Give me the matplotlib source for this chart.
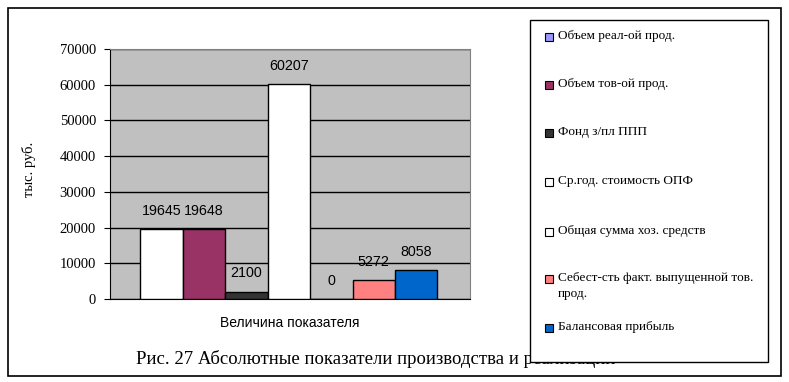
import matplotlib.pyplot as plt
from matplotlib.patches import Rectangle

# data
labels = ['Объем реал-ой прод.', 'Объем тов-ой прод.', 'Фонд з/пл ППП',
          'Ср.год. стоимость ОПФ', 'Общая сумма хоз. средств',
          'Себест-сть факт. выпущенной тов.\nпрод.', 'Балансовая прибыль']
values = [19645, 19648, 2100, 60207, 0, 5272, 8058]
bar_colors = ['#ffffff', '#993366', '#333333', '#ffffff', '#ffffff', '#ff8080', '#0066cc']
legend_colors = ['#9999ff', '#993366', '#333333', '#ffffff', '#ffffff', '#ff8080', '#0066cc']
category = 'Величина показателя'

serif = 'Liberation Serif'
sans = 'Liberation Sans'

fig = plt.figure(figsize=(7.89, 3.82), dpi=100)
W, H = 789, 382

# outer frame
fig.patches.append(Rectangle((8 / W, 1 - 376 / H), 773 / W, 368 / H, transform=fig.transFigure,
                             fill=False, edgecolor='black', linewidth=1.2, zorder=0))

ax = fig.add_axes([110 / W, 1 - 299 / H, 360 / W, 250 / H])
ax.set_facecolor('#c0c0c0')

n = len(values)
bw = 297 / 360 / n
x0 = -0.5 + (1 - bw * n) / 2 - 0.003
for i, (v, c) in enumerate(zip(values, bar_colors)):
    xc = x0 + bw * (i + 0.5)
    ax.bar(xc, v, width=bw, color=c, edgecolor='black', linewidth=1, zorder=3)
    ax.annotate(str(v), (xc, v), xytext=(0, 13), textcoords='offset points',
                ha='center', va='center', fontsize=10.3, family=sans, zorder=4)

ax.set_xlim(-0.5, 0.5)
ax.set_ylim(0, 70000)
ax.set_yticks(range(0, 70001, 10000))
ax.yaxis.grid(True, color='black', linewidth=1, zorder=1)
ax.set_axisbelow(True)
ax.set_xticks([0])
ax.set_xticklabels([category], fontsize=10, family=sans)
ax.tick_params(axis='x', length=0, pad=12)
ax.tick_params(axis='y', length=4, labelsize=10.5, direction='out', pad=6)
for lab in ax.get_yticklabels():
    lab.set_family(serif)
for s in ['top', 'right']:
    ax.spines[s].set_color('#808080')
ax.spines['left'].set_color('black')
ax.spines['bottom'].set_color('black')
ax.set_ylabel('тыс. руб.', family=serif, fontsize=10.5)
ax.yaxis.set_label_coords(-0.205, 0.52)

# caption
fig.text(376 / W, 1 - 359 / H, 'Рис. 27 Абсолютные показатели производства и реализации',
         ha='center', va='center', family=serif, fontsize=13.5)

# legend box (drawn over caption)
fig.patches.append(Rectangle((530 / W, 1 - 362 / H), 238 / W, 342 / H, transform=fig.transFigure,
                             facecolor='white', edgecolor='black', linewidth=1, zorder=5))
ys = [37, 85, 133, 182, 232, 279, 328]
for lab, c, y in zip(labels, legend_colors, ys):
    fig.patches.append(Rectangle((545 / W, 1 - (y + 4) / H), 8 / W, 8 / H, transform=fig.transFigure,
                                 facecolor=c, edgecolor='black', linewidth=0.8, zorder=6))
    fig.text(558 / W, 1 - (y - 7) / H, lab, ha='left', va='top', family=serif,
             fontsize=9.5, zorder=7, linespacing=1.4)

fig.savefig('out.png', dpi=100)
